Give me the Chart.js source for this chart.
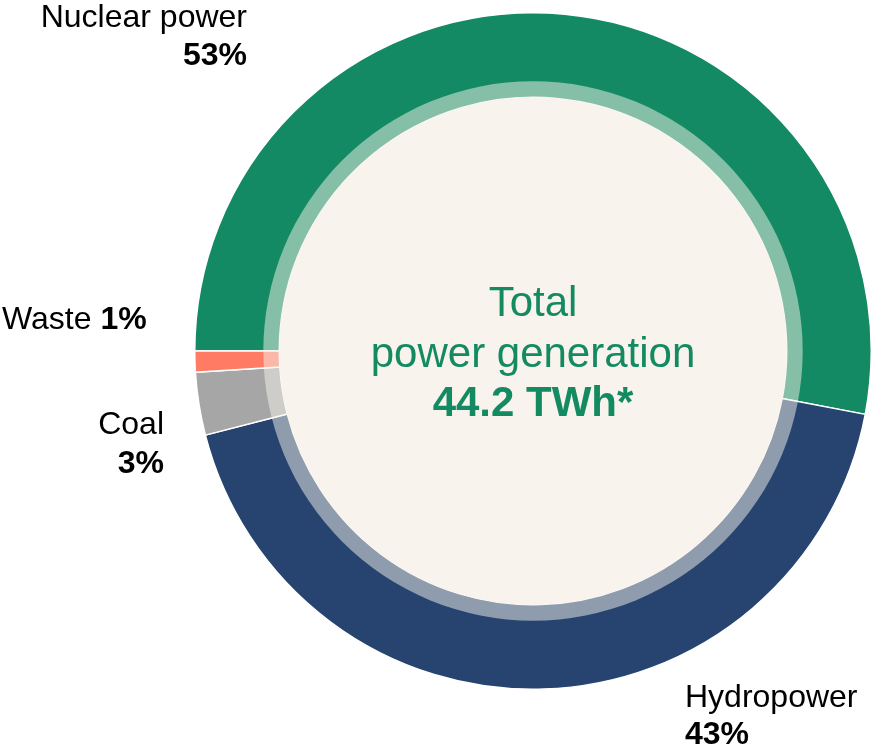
<!DOCTYPE html>
<html lang="en">
<head>
    <meta charset="UTF-8">
    <title>Power generation</title>
    <script src="https://cdn.jsdelivr.net/npm/chart.js"></script>
    <style>
        body { margin: 0; background: #fff; }
        .wrap { position: relative; width: 872px; height: 750px; font-family: "Liberation Sans", Arial, sans-serif; }
        canvas { position: absolute; left: 0; top: 0; }
        .lbl { position: absolute; font-size: 32px; line-height: 32px; color: #000; white-space: nowrap; }
        .lbl b { font-weight: bold; }
        .right { text-align: right; }
        .mid { position: absolute; left: 333px; width: 400px; text-align: center; font-size: 42px; line-height: 42px; color: #148a63; white-space: nowrap; }
    </style>
</head>
<body>
<div class="wrap">
    <canvas id="grafico" width="872" height="750"></canvas>

    <div class="lbl right" id="lblNuclear" style="right: 625px; top: 0px;"></div>
    <div class="lbl" id="lblWaste" style="left: 2px; top: 302px;"></div>
    <div class="lbl right" id="lblCoal" style="right: 708px; top: 407px;"></div>
    <div class="lbl" id="lblHydro" style="left: 685px; top: 680px;"></div>

    <div class="mid" style="top: 281px;">Total</div>
    <div class="mid" style="top: 332px;">power generation</div>
    <div class="mid" style="top: 381px; font-weight: bold;" id="total"></div>
</div>

<script>
    // dados
    const categorias = ['Nuclear power', 'Hydropower', 'Coal', 'Waste'];
    const percentuais = [53, 43, 3, 1];
    const cores = ['#138a63', '#26446f', '#a6a6a6', '#ff7b64'];
    const totalTWh = 44.2;

    // textos
    document.getElementById('lblNuclear').innerHTML = `${categorias[0]}<br><b style="position:relative;top:6px">${percentuais[0]}%</b>`;
    document.getElementById('lblHydro').innerHTML = `${categorias[1]}<br><b style="position:relative;top:5px">${percentuais[1]}%</b>`;
    document.getElementById('lblCoal').innerHTML = `${categorias[2]}<br><b style="position:relative;top:7px">${percentuais[2]}%</b>`;
    document.getElementById('lblWaste').innerHTML = `${categorias[3]} <b>${percentuais[3]}%</b>`;
    document.getElementById('total').textContent = `${totalTWh} TWh*`;

    // anel claro + disco creme no centro
    const centro = {
        id: 'centro',
        afterDatasetsDraw(chart) {
            const arc = chart.getDatasetMeta(0).data[0];
            const ctx = chart.ctx;
            const r = arc.innerRadius;
            ctx.save();
            ctx.fillStyle = 'rgba(248, 243, 236, 0.5)';
            ctx.beginPath();
            ctx.arc(arc.x, arc.y, r + 16, 0, Math.PI * 2);
            ctx.fill();
            ctx.fillStyle = '#f8f3ec';
            ctx.beginPath();
            ctx.arc(arc.x, arc.y, r, 0, Math.PI * 2);
            ctx.fill();
            ctx.restore();
        }
    };

    new Chart(document.getElementById('grafico'), {
        type: 'doughnut',
        data: {
            labels: categorias,
            datasets: [{
                data: percentuais,
                backgroundColor: cores,
                borderColor: '#ffffff',
                borderWidth: 1.5
            }]
        },
        options: {
            responsive: false,
            animation: false,
            rotation: 270,
            cutout: '75%',
            layout: { padding: { left: 194, top: 11, right: 0, bottom: 59 } },
            plugins: {
                legend: { display: false },
                tooltip: { enabled: false }
            }
        },
        plugins: [centro]
    });
</script>
</body>
</html>
